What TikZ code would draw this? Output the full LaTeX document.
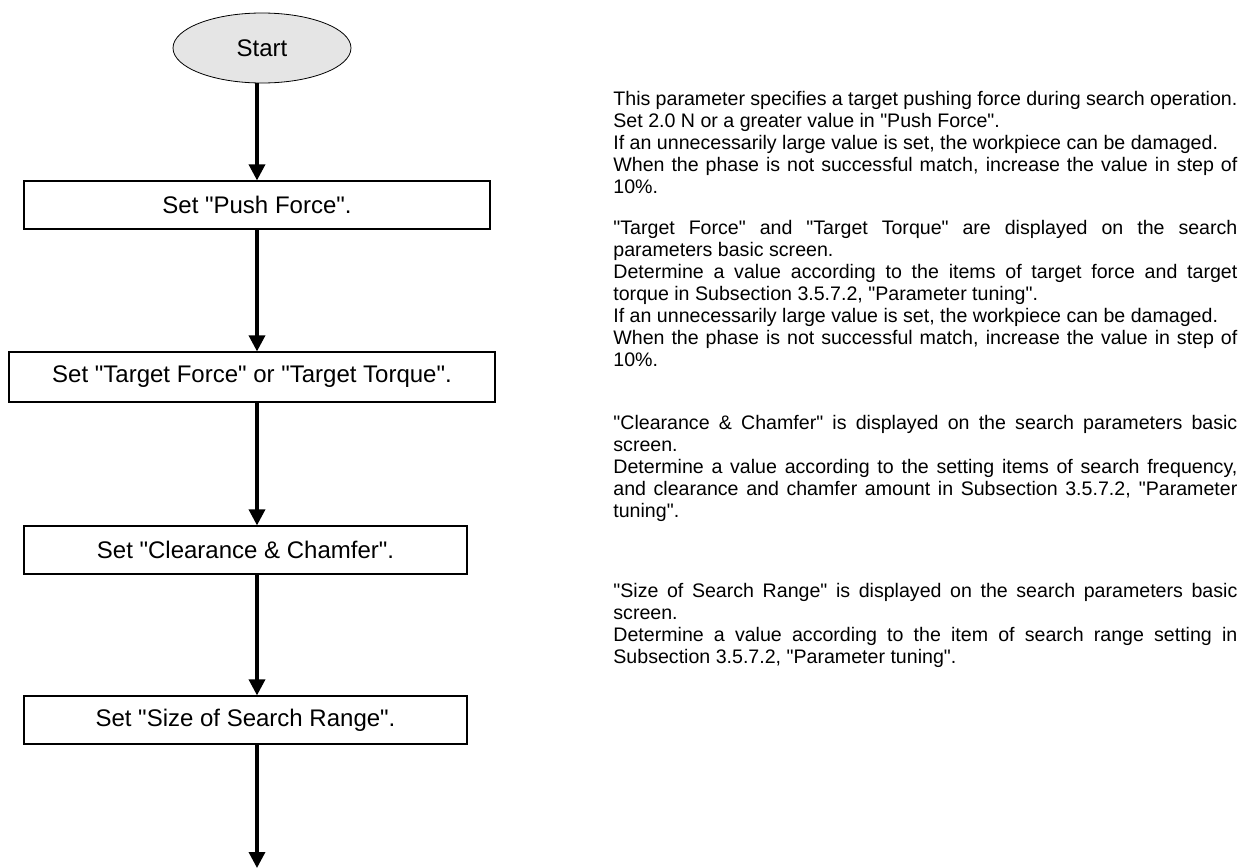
\documentclass[tikz,border=0pt]{standalone}
\usepackage{fontspec}
\setmainfont{Liberation Sans}[Ligatures=TeXOff]
\usetikzlibrary{shapes,arrows.meta,calc,positioning}
\setlength{\parindent}{0pt}
\hyphenpenalty=10000
\tolerance=9999

\tikzset{
  startstop/.style={draw, ellipse, fill=black!10, minimum width=89pt, minimum height=35pt, inner sep=0pt, font=\fontsize{12}{14}\selectfont},
  process/.style={draw, rectangle, minimum height=24pt, text centered, line width=0.6pt, font=\fontsize{12}{14}\selectfont},
  flow/.style={draw, line width=1.7pt, -{Triangle[width=8pt,length=8pt]}},
  note/.style={anchor=north west, text width=312pt, align=justify, inner sep=0pt, font=\fontsize{9.8}{11}\selectfont}
}

\begin{document}
\begin{tikzpicture}[x=0.5pt, y=0.5pt]
\useasboundingbox (0,0) rectangle (1255,-868);

%nodes
\node [startstop](1) at (262,-48){Start};

\node [process, minimum width=233pt, below of=1, node distance=78.5pt, xshift=-2.5pt](2){Set "Push Force".};
\node [process, minimum width=243pt, minimum height=25pt, below of=2, node distance=86pt, xshift=-2.5pt](3){Set "Target Force" or "Target Torque".};
\node [process, minimum width=221.5pt, below of=3, node distance=86.5pt, xshift=-3.25pt](4){Set "Clearance \& Chamfer".};
\node [process, minimum width=221.5pt, below of=4, node distance=85pt](5){Set "Size of Search Range".};
\coordinate (6) at (257,-868);

%notes
\node [note] (7) at (613,-91){This parameter specifies a target pushing force during search operation.\par
Set 2.0 N or a greater value in "Push Force".\par
If an unnecessarily large value is set, the workpiece can be damaged.\par
When the phase is not successful match, increase the value in step of\linebreak 10\%.};

\node [note] (8) at (613,-220){"Target Force" and "Target Torque" are displayed on the search\linebreak parameters basic screen.\par
Determine a value according to the items of target force and target\linebreak torque in Subsection 3.5.7.2, "Parameter tuning".\par
If an unnecessarily large value is set, the workpiece can be damaged.\par
When the phase is not successful match, increase the value in step of\linebreak 10\%.};

\node [note] (9) at (613,-415){"Clearance \& Chamfer" is displayed on the search parameters basic\linebreak screen.\par
Determine a value according to the setting items of search frequency,\linebreak and clearance and chamfer amount in Subsection 3.5.7.2, "Parameter\linebreak tuning".};

\node [note] (10) at (613,-583){"Size of Search Range" is displayed on the search parameters basic\linebreak screen.\par
Determine a value according to the item of search range setting in\linebreak Subsection 3.5.7.2, "Parameter tuning".};

%arrows
\path [flow] (1.south -| 6) -- (2.north -| 6);
\path [flow] (2.south -| 6) -- (3.north -| 6);
\path [flow] (3.south -| 6) -- (4.north -| 6);
\path [flow] (4.south -| 6) -- (5.north -| 6);
\path [flow] (5.south -| 6) -- (6);

\end{tikzpicture}
\end{document}
